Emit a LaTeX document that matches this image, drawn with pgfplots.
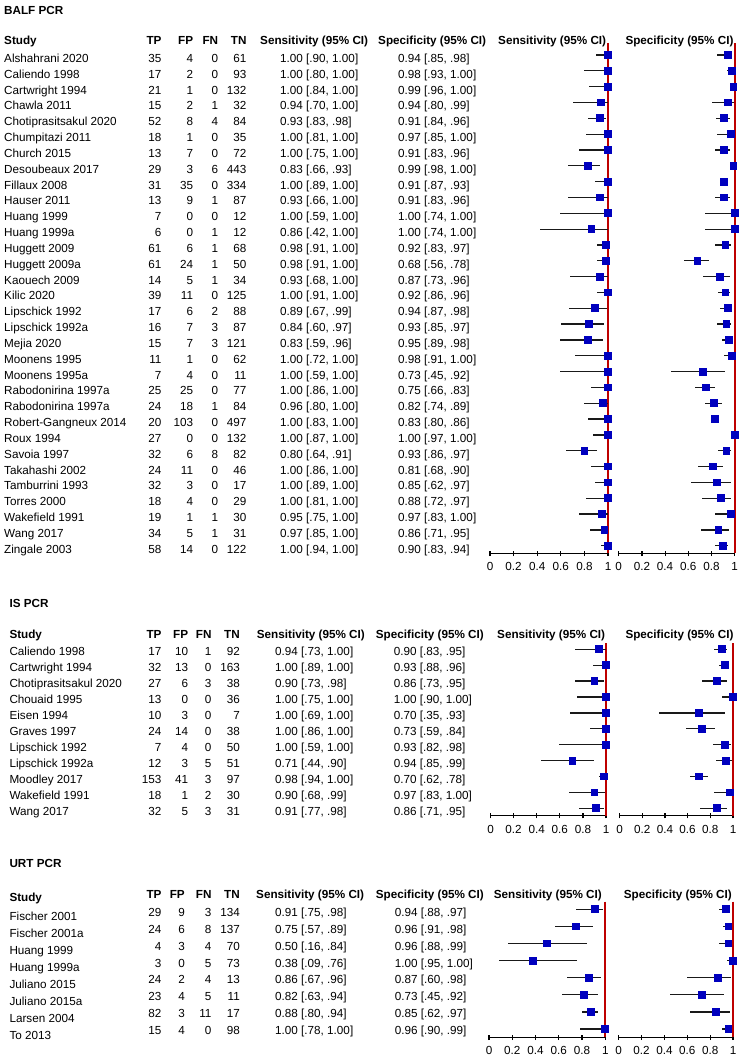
\documentclass[border=0pt]{standalone}
\usepackage{fontspec}
\setmainfont{Liberation Sans}
\usepackage{pgfplots}
\usepackage{pgfplotstable}
\pgfplotsset{compat=1.18}
\definecolor{mblue}{RGB}{0,0,190}
\definecolor{lred}{RGB}{190,0,0}
\definecolor{cigray}{RGB}{25,25,25}
\newcommand\rf{\fontsize{11.7pt}{14pt}\selectfont}

\pgfplotstableread[col sep=semicolon]{
row;name;TP;FP;FN;TN;se;sel;seu;setxt;sp;spl;spu;sptxt
1;Alshahrani 2020;35;4;0;61;1.00;0.90;1.00;1.00 [.90, 1.00];0.94;0.85;0.98;0.94 [.85, .98]
2;Caliendo 1998;17;2;0;93;1.00;0.80;1.00;1.00 [.80, 1.00];0.98;0.93;1.00;0.98 [.93, 1.00]
3;Cartwright 1994;21;1;0;132;1.00;0.84;1.00;1.00 [.84, 1.00];0.99;0.96;1.00;0.99 [.96, 1.00]
4;Chawla 2011;15;2;1;32;0.94;0.70;1.00;0.94 [.70, 1.00];0.94;0.80;0.99;0.94 [.80, .99]
5;Chotiprasitsakul 2020;52;8;4;84;0.93;0.83;0.98;0.93 [.83, .98];0.91;0.84;0.96;0.91 [.84, .96]
6;Chumpitazi 2011;18;1;0;35;1.00;0.81;1.00;1.00 [.81, 1.00];0.97;0.85;1.00;0.97 [.85, 1.00]
7;Church 2015;13;7;0;72;1.00;0.75;1.00;1.00 [.75, 1.00];0.91;0.83;0.96;0.91 [.83, .96]
8;Desoubeaux 2017;29;3;6;443;0.83;0.66;0.93;0.83 [.66, .93];0.99;0.98;1.00;0.99 [.98, 1.00]
9;Fillaux 2008;31;35;0;334;1.00;0.89;1.00;1.00 [.89, 1.00];0.91;0.87;0.93;0.91 [.87, .93]
10;Hauser 2011;13;9;1;87;0.93;0.66;1.00;0.93 [.66, 1.00];0.91;0.83;0.96;0.91 [.83, .96]
11;Huang 1999;7;0;0;12;1.00;0.59;1.00;1.00 [.59, 1.00];1.00;0.74;1.00;1.00 [.74, 1.00]
12;Huang 1999a;6;0;1;12;0.86;0.42;1.00;0.86 [.42, 1.00];1.00;0.74;1.00;1.00 [.74, 1.00]
13;Huggett 2009;61;6;1;68;0.98;0.91;1.00;0.98 [.91, 1.00];0.92;0.83;0.97;0.92 [.83, .97]
14;Huggett 2009a;61;24;1;50;0.98;0.91;1.00;0.98 [.91, 1.00];0.68;0.56;0.78;0.68 [.56, .78]
15;Kaouech 2009;14;5;1;34;0.93;0.68;1.00;0.93 [.68, 1.00];0.87;0.73;0.96;0.87 [.73, .96]
16;Kilic 2020;39;11;0;125;1.00;0.91;1.00;1.00 [.91, 1.00];0.92;0.86;0.96;0.92 [.86, .96]
17;Lipschick 1992;17;6;2;88;0.89;0.67;0.99;0.89 [.67, .99];0.94;0.87;0.98;0.94 [.87, .98]
18;Lipschick 1992a;16;7;3;87;0.84;0.60;0.97;0.84 [.60, .97];0.93;0.85;0.97;0.93 [.85, .97]
19;Mejia 2020;15;7;3;121;0.83;0.59;0.96;0.83 [.59, .96];0.95;0.89;0.98;0.95 [.89, .98]
20;Moonens 1995;11;1;0;62;1.00;0.72;1.00;1.00 [.72, 1.00];0.98;0.91;1.00;0.98 [.91, 1.00]
21;Moonens 1995a;7;4;0;11;1.00;0.59;1.00;1.00 [.59, 1.00];0.73;0.45;0.92;0.73 [.45, .92]
22;Rabodonirina 1997a;25;25;0;77;1.00;0.86;1.00;1.00 [.86, 1.00];0.75;0.66;0.83;0.75 [.66, .83]
23;Rabodonirina 1997a;24;18;1;84;0.96;0.80;1.00;0.96 [.80, 1.00];0.82;0.74;0.89;0.82 [.74, .89]
24;Robert-Gangneux 2014;20;103;0;497;1.00;0.83;1.00;1.00 [.83, 1.00];0.83;0.80;0.86;0.83 [.80, .86]
25;Roux 1994;27;0;0;132;1.00;0.87;1.00;1.00 [.87, 1.00];1.00;0.97;1.00;1.00 [.97, 1.00]
26;Savoia 1997;32;6;8;82;0.80;0.64;0.91;0.80 [.64, .91];0.93;0.86;0.97;0.93 [.86, .97]
27;Takahashi 2002;24;11;0;46;1.00;0.86;1.00;1.00 [.86, 1.00];0.81;0.68;0.90;0.81 [.68, .90]
28;Tamburrini 1993;32;3;0;17;1.00;0.89;1.00;1.00 [.89, 1.00];0.85;0.62;0.97;0.85 [.62, .97]
29;Torres 2000;18;4;0;29;1.00;0.81;1.00;1.00 [.81, 1.00];0.88;0.72;0.97;0.88 [.72, .97]
30;Wakefield 1991;19;1;1;30;0.95;0.75;1.00;0.95 [.75, 1.00];0.97;0.83;1.00;0.97 [.83, 1.00]
31;Wang 2017;34;5;1;31;0.97;0.85;1.00;0.97 [.85, 1.00];0.86;0.71;0.95;0.86 [.71, .95]
32;Zingale 2003;58;14;0;122;1.00;0.94;1.00;1.00 [.94, 1.00];0.90;0.83;0.94;0.90 [.83, .94]
}\balf

\pgfplotstableread[col sep=semicolon]{
row;name;TP;FP;FN;TN;se;sel;seu;setxt;sp;spl;spu;sptxt
1;Caliendo 1998;17;10;1;92;0.94;0.73;1.00;0.94 [.73, 1.00];0.90;0.83;0.95;0.90 [.83, .95]
2;Cartwright 1994;32;13;0;163;1.00;0.89;1.00;1.00 [.89, 1.00];0.93;0.88;0.96;0.93 [.88, .96]
3;Chotiprasitsakul 2020;27;6;3;38;0.90;0.73;0.98;0.90 [.73, .98];0.86;0.73;0.95;0.86 [.73, .95]
4;Chouaid 1995;13;0;0;36;1.00;0.75;1.00;1.00 [.75, 1.00];1.00;0.90;1.00;1.00 [.90, 1.00]
5;Eisen 1994;10;3;0;7;1.00;0.69;1.00;1.00 [.69, 1.00];0.70;0.35;0.93;0.70 [.35, .93]
6;Graves 1997;24;14;0;38;1.00;0.86;1.00;1.00 [.86, 1.00];0.73;0.59;0.84;0.73 [.59, .84]
7;Lipschick 1992;7;4;0;50;1.00;0.59;1.00;1.00 [.59, 1.00];0.93;0.82;0.98;0.93 [.82, .98]
8;Lipschick 1992a;12;3;5;51;0.71;0.44;0.90;0.71 [.44, .90];0.94;0.85;0.99;0.94 [.85, .99]
9;Moodley 2017;153;41;3;97;0.98;0.94;1.00;0.98 [.94, 1.00];0.70;0.62;0.78;0.70 [.62, .78]
10;Wakefield 1991;18;1;2;30;0.90;0.68;0.99;0.90 [.68, .99];0.97;0.83;1.00;0.97 [.83, 1.00]
11;Wang 2017;32;5;3;31;0.91;0.77;0.98;0.91 [.77, .98];0.86;0.71;0.95;0.86 [.71, .95]
}\ispcr

\pgfplotstableread[col sep=semicolon]{
row;name;TP;FP;FN;TN;se;sel;seu;setxt;sp;spl;spu;sptxt
1;Fischer 2001;29;9;3;134;0.91;0.75;0.98;0.91 [.75, .98];0.94;0.88;0.97;0.94 [.88, .97]
2;Fischer 2001a;24;6;8;137;0.75;0.57;0.89;0.75 [.57, .89];0.96;0.91;0.98;0.96 [.91, .98]
3;Huang 1999;4;3;4;70;0.50;0.16;0.84;0.50 [.16, .84];0.96;0.88;0.99;0.96 [.88, .99]
4;Huang 1999a;3;0;5;73;0.38;0.09;0.76;0.38 [.09, .76];1.00;0.95;1.00;1.00 [.95, 1.00]
5;Juliano 2015;24;2;4;13;0.86;0.67;0.96;0.86 [.67, .96];0.87;0.60;0.98;0.87 [.60, .98]
6;Juliano 2015a;23;4;5;11;0.82;0.63;0.94;0.82 [.63, .94];0.73;0.45;0.92;0.73 [.45, .92]
7;Larsen 2004;82;3;11;17;0.88;0.80;0.94;0.88 [.80, .94];0.85;0.62;0.97;0.85 [.62, .97]
8;To 2013;15;4;0;98;1.00;0.78;1.00;1.00 [.78, 1.00];0.96;0.90;0.99;0.96 [.90, .99]
}\urt

\pgfplotsset{
  fp/.style={
    scale only axis, clip=false, anchor=south west,
    axis x line*=bottom, axis y line=none,
    x axis line style={-, line width=1.2pt, black},
    xmin=0, xmax=1,
    xtick={0,0.2,0.4,0.6,0.8,1},
    ytick=\empty,
    tick align=center, major tick length=5.4pt,
    xtick style={line width=1.2pt, black},
    xticklabel style={font=\rf, inner sep=0pt, anchor=north, yshift=-6.6pt},
    /pgf/number format/assume math mode=true,
  },
  txt/.style={only marks, mark=none, nodes near coords, point meta=explicit symbolic,
    every node near coord/.append style={anchor=#1, inner sep=0pt, font=\rf, text=black}},
  ci/.style={only marks, mark=none, error bars/.cd, x dir=both, x explicit, error mark=none,
    error bar style={line width=1.25pt, draw=cigray}},
  mk/.style={only marks, mark=square*, mark size=3.4pt,
    mark options={draw=mblue, fill=mblue, line width=0pt}},
}

\newcommand\drawsec[1]{%
  \pgfmathsetmacro\hh{\ybot-\ytop}%
  \begin{axis}[fp, at={(\sx pt,-\ybot pt)}, width=\sw pt, height=\hh pt, ymin=-\ybot, ymax=-\ytop]
    \addplot[lred, line width=2.2pt] coordinates {(1,-\ytop) (1,-\ybot)};
    \addplot[ci] table[x=se, y expr=-(\ym+\dm*(\thisrow{row}-1)),
      x error plus expr=\thisrow{seu}-\thisrow{se}, x error minus expr=\thisrow{se}-\thisrow{sel}]{#1};
    \addplot[mk] table[x=se, y expr=-(\ym+\dm*(\thisrow{row}-1))]{#1};
    \addplot[txt=base west] table[x expr=(\cN-\sx)/\sw, y expr=-(\yn+\dn*(\thisrow{row}-1)), meta=name]{#1};
    \addplot[txt=base east] table[x expr=(\cTP-\sx)/\sw, y expr=-(\yt+\dt*(\thisrow{row}-1)), meta=TP]{#1};
    \addplot[txt=base east] table[x expr=(\cFP-\sx)/\sw, y expr=-(\yt+\dt*(\thisrow{row}-1)), meta=FP]{#1};
    \addplot[txt=base east] table[x expr=(\cFN-\sx)/\sw, y expr=-(\yt+\dt*(\thisrow{row}-1)), meta=FN]{#1};
    \addplot[txt=base east] table[x expr=(\cTN-\sx)/\sw, y expr=-(\yt+\dt*(\thisrow{row}-1)), meta=TN]{#1};
    \addplot[txt=base west] table[x expr=(\cSe-\sx)/\sw, y expr=-(\yt+\dt*(\thisrow{row}-1)), meta=setxt]{#1};
    \addplot[txt=base west] table[x expr=(\cSp-\sx)/\sw, y expr=-(\yt+\dt*(\thisrow{row}-1)), meta=sptxt]{#1};
  \end{axis}
  \begin{axis}[fp, at={(\spx pt,-\ybot pt)}, width=\spw pt, height=\hh pt, ymin=-\ybot, ymax=-\ytop]
    \addplot[lred, line width=2.2pt] coordinates {(1,-\ytop) (1,-\ybot)};
    \addplot[ci] table[x=sp, y expr=-(\ym+\dm*(\thisrow{row}-1)),
      x error plus expr=\thisrow{spu}-\thisrow{sp}, x error minus expr=\thisrow{sp}-\thisrow{spl}]{#1};
    \addplot[mk] table[x=sp, y expr=-(\ym+\dm*(\thisrow{row}-1))]{#1};
  \end{axis}}

\newcommand\hd[4]{\node[anchor=base #1, inner sep=0pt, font=\rf\bfseries] at (#2,-#3) {#4};}

\begin{document}
\begin{tikzpicture}[x=1pt,y=1pt]
\path[use as bounding box] (0,0) rectangle (746,-1058);

% ---------- BALF PCR ----------
\def\sx{490}\def\sw{118}\def\spx{618.7}\def\spw{116}
\def\ytop{43.3}\def\ybot{553.3}
\def\ym{55}\def\dm{15.83}\def\yt{62.5}\def\dt{15.83}\def\yn{62.5}\def\dn{15.83}
\def\cN{4}\def\cTP{161.7}\def\cFP{193.3}\def\cFN{218.3}\def\cTN{246.7}\def\cSe{280}\def\cSp{398}
\drawsec{\balf}
\hd{west}{4}{14}{BALF PCR}
\hd{west}{4}{44.2}{Study}
\hd{east}{161.7}{44.2}{TP}
\hd{east}{193.3}{44.2}{FP}
\hd{east}{218.3}{44.2}{FN}
\hd{east}{246.7}{44.2}{TN}
\hd{west}{260}{44.2}{Sensitivity (95\% CI)}
\hd{west}{378}{44.2}{Specificity (95\% CI)}
\hd{west}{498}{44.2}{Sensitivity (95\% CI)}
\hd{west}{625.3}{44.2}{Specificity (95\% CI)}

% ---------- IS PCR ----------
\def\sx{490.5}\def\sw{115.5}\def\spx{619.5}\def\spw{113.5}
\def\ytop{643}\def\ybot{815.7}
\def\ym{649.3}\def\dm{15.9}\def\yt{655.9}\def\dt{15.95}\def\yn{655.9}\def\dn{15.95}
\def\cN{9.3}\def\cTP{161.7}\def\cFP{188.3}\def\cFN{211.7}\def\cTN{240}\def\cSe{275}\def\cSp{393.7}
\drawsec{\ispcr}
\hd{west}{9.3}{607.7}{IS PCR}
\hd{west}{9.3}{638.5}{Study}
\hd{east}{161.7}{638.5}{TP}
\hd{east}{188.3}{638.5}{FP}
\hd{east}{211.7}{638.5}{FN}
\hd{east}{240}{638.5}{TN}
\hd{west}{256.7}{638.5}{Sensitivity (95\% CI)}
\hd{west}{375.7}{638.5}{Specificity (95\% CI)}
\hd{west}{497}{638.5}{Sensitivity (95\% CI)}
\hd{west}{625.3}{638.5}{Specificity (95\% CI)}

% ---------- URT PCR ----------
\def\sx{489}\def\sw{116.3}\def\spx{618.7}\def\spw{114.3}
\def\ytop{901.7}\def\ybot{1037.3}
\def\ym{909.3}\def\dm{17.1}\def\yt{916.9}\def\dt{16.76}\def\yn{920.9}\def\dn{16.9}
\def\cN{9.3}\def\cTP{161.7}\def\cFP{185}\def\cFN{211.7}\def\cTN{240}\def\cSe{275}\def\cSp{394.7}
\drawsec{\urt}
\hd{west}{9.3}{867.5}{URT PCR}
\hd{west}{9.3}{901.9}{Study}
\hd{east}{161.7}{898.5}{TP}
\hd{east}{185}{898.5}{FP}
\hd{east}{211.7}{898.5}{FN}
\hd{east}{240}{898.5}{TN}
\hd{west}{256}{898.5}{Sensitivity (95\% CI)}
\hd{west}{375.7}{898.5}{Specificity (95\% CI)}
\hd{west}{493.7}{898.5}{Sensitivity (95\% CI)}
\hd{west}{623.7}{898.5}{Specificity (95\% CI)}
\end{tikzpicture}
\end{document}
